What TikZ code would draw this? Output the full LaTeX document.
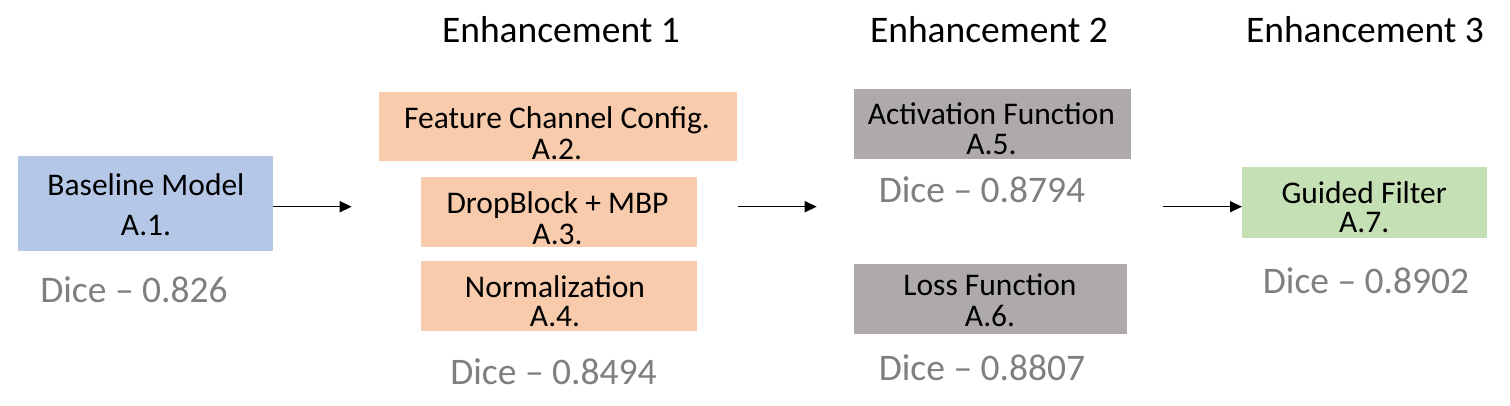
\documentclass[tikz,border=0pt]{standalone}
\usepackage{fontspec}
\setmainfont{Carlito}
\usetikzlibrary{arrows.meta}
\definecolor{cblue}{HTML}{B4C7E7}
\definecolor{corange}{HTML}{F8CBAD}
\definecolor{cgray}{HTML}{AEAAAA}
\definecolor{cgreen}{HTML}{C5E0B4}
\definecolor{ctext}{HTML}{7F7F7F}
\begin{document}
\begin{tikzpicture}[x=1pt,y=-1pt,
  box/.style={draw=none,rectangle,inner sep=0pt,outer sep=0pt},
  btext/.style={anchor=base,inner sep=0pt,align=center,font=\fontsize{31.5}{#1}\selectfont},
  title/.style={anchor=base,inner sep=0pt,font=\fontsize{37.5}{40}\selectfont},
  dice/.style={anchor=base,inner sep=0pt,text=ctext,font=\fontsize{37.5}{40}\selectfont},
  conn/.style={line width=1.5pt,-{Triangle[length=12pt,width=11pt]}}]
\useasboundingbox[fill=white] (0,0) rectangle (1510,406);
% titles
\node[title] (t1) at (561,43) {Enhancement 1};
\node[title] (t2) at (989,43) {Enhancement 2};
\node[title] (t3) at (1365,43) {Enhancement 3};
% boxes
\node[box,fill=cblue,minimum width=255pt,minimum height=95pt] (a1) at (145.5,203.5) {};
\node[box,fill=corange,minimum width=358pt,minimum height=69pt] (a2) at (558,126.5) {};
\node[box,fill=corange,minimum width=276pt,minimum height=70pt] (a3) at (559,212) {};
\node[box,fill=corange,minimum width=276pt,minimum height=70pt] (a4) at (559,296) {};
\node[box,fill=cgray,minimum width=277pt,minimum height=70pt] (a5) at (992.5,124) {};
\node[box,fill=cgray,minimum width=273pt,minimum height=70pt] (a6) at (990.5,299) {};
\node[box,fill=cgreen,minimum width=245pt,minimum height=71pt] (a7) at (1364.5,202.5) {};
% box texts (anchored at the baseline of the last line)
\node[btext=40] (a1t) at (146,236) {Baseline Model\\A.1.};
\node[btext=31.7] (a2t) at (557,160) {Feature Channel Config.\\A.2.};
\node[btext=31] (a3t) at (557.5,244.3) {DropBlock + MBP\\A.3.};
\node[btext=29] (a4t) at (555,326) {Normalization\\A.4.};
\node[btext=30] (a5t) at (991.4,155) {Activation Function\\A.5.};
\node[btext=31.7] (a6t) at (990,326.7) {Loss Function\\A.6.};
\node[btext=29] (a7t) at (1364.2,232.5) {Guided Filter\\A.7.};
% dice values
\node[dice] (d1) at (134,302.7) {Dice -- 0.826};
\node[dice] (d2) at (553.5,384.3) {Dice -- 0.8494};
\node[dice] (d3) at (982,203) {Dice -- 0.8794};
\node[dice] (d4) at (982,380) {Dice -- 0.8807};
\node[dice] (d5) at (1366,293.3) {Dice -- 0.8902};
% connectors
\coordinate (c1) at (351.7,206.7);
\coordinate (c2s) at (738,206.7);
\coordinate (c2e) at (816.7,206.7);
\coordinate (c3s) at (1163,206.7);
\draw[conn] (a1.east |- c1) -- (c1);
\draw[conn] (c2s) -- (c2e);
\draw[conn] (c3s) -- (c3s -| a7.west);
\end{tikzpicture}
\end{document}
